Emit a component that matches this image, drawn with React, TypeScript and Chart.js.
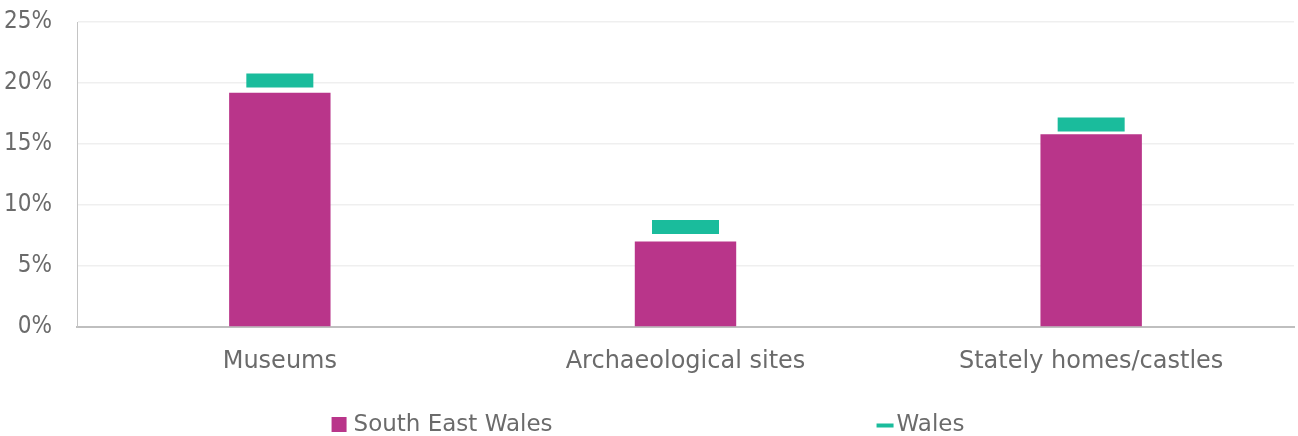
import React, { useEffect, useRef } from "react";
import { Chart, registerables } from "chart.js";

Chart.register(...registerables);

const categories: string[] = ["Museums", "Archaeological sites", "Stately homes/castles"];
const southEastWales: number[] = [19.2, 7.0, 15.8];
const wales: number[] = [20.2, 8.2, 16.6];
const yTicks: number[] = [0, 5, 10, 15, 20, 25];

const MAGENTA = "#B9358A";
const TEAL = "#1ABC9C";
const TEXT = "#6B6B6B";

const customLegend = {
  id: "customLegend",
  afterDraw(chart: any) {
    const ctx = chart.ctx;
    const font = "23px 'DejaVu Sans', sans-serif";
    ctx.save();
    ctx.font = font;
    ctx.textBaseline = "middle";
    ctx.textAlign = "left";
    const items = chart.data.datasets.map((ds: any) => ds.label as string);
    const box = 15;
    const gapText = 7;
    const gapItems = 324;
    const widths = items.map((t: string) => box + gapText + ctx.measureText(t).width);
    const total = widths.reduce((a: number, b: number) => a + b, 0) + gapItems * (items.length - 1);
    let x = chart.width / 2 - total / 2;
    const y = 425;
    items.forEach((t: string, i: number) => {
      if (i === 0) {
        ctx.fillStyle = MAGENTA;
        ctx.fillRect(x, y - 8, box, box);
      } else {
        ctx.fillStyle = TEAL;
        ctx.fillRect(x, y - 1.5, 17, 4);
      }
      ctx.fillStyle = TEXT;
      ctx.fillText(t, x + (i === 0 ? box + gapText : 20), y);
      x += widths[i] + gapItems;
    });
    ctx.restore();
  },
};

export default function App() {
  const ref = useRef<HTMLCanvasElement | null>(null);
  useEffect(() => {
    if (!ref.current) return;
    const chart = new Chart(ref.current, {
      type: "bar",
      data: {
        labels: categories,
        datasets: [
          {
            type: "bar",
            label: "South East Wales",
            data: southEastWales,
            backgroundColor: MAGENTA,
            borderWidth: 0,
            barPercentage: 0.25,
            categoryPercentage: 1,
            order: 2,
          },
          {
            type: "line",
            label: "Wales",
            data: wales,
            showLine: false,
            pointStyle: "line",
            pointRadius: 33.5,
            pointHoverRadius: 33.5,
            pointBorderWidth: 14,
            pointHoverBorderWidth: 14,
            pointBorderColor: TEAL,
            pointBackgroundColor: TEAL,
            borderColor: TEAL,
            backgroundColor: TEAL,
            clip: false,
            order: 1,
          } as any,
        ],
      },
      options: {
        responsive: false,
        animation: false,
        layout: { autoPadding: false, padding: { top: 22, right: 4, left: 0, bottom: 0 } },
        plugins: {
          legend: { display: false },
          tooltip: { enabled: false },
          title: { display: false },
        },
        scales: {
          x: {
            grid: { display: false, drawTicks: false },
            border: { display: true, color: "#BFBFBF", width: 2 },
            ticks: {
              color: TEXT,
              font: { family: "'DejaVu Sans', sans-serif", size: 24 },
              padding: 20,
              maxRotation: 0,
            },
            afterFit: (s: any) => {
              s.height = 109;
              s.paddingLeft = 0;
              s.paddingRight = 0;
            },
          },
          y: {
            min: 0,
            max: 25,
            afterBuildTicks: (s: any) => {
              s.ticks = yTicks.map((v) => ({ value: v }));
            },
            grid: { color: "#EFEFEF", lineWidth: 1.5, drawTicks: false },
            border: { display: true, color: "#C4C4C4", width: 1 },
            ticks: {
              color: TEXT,
              font: { family: "'DejaVu Sans Condensed', 'DejaVu Sans', sans-serif", size: 24 },
              padding: 25,
              callback: (v: any) => v + "%",
            },
            afterFit: (s: any) => {
              s.width = 77;
              s.paddingTop = 0;
              s.paddingBottom = 0;
            },
          },
        },
      },
      plugins: [customLegend],
    });
    return () => chart.destroy();
  }, []);
  return (
    <div style={{ position: "fixed", left: 0, top: 0, width: 1298, height: 436, background: "#fff" }}>
      <canvas ref={ref} width={1298} height={436} style={{ display: "block" }} />
    </div>
  );
}
